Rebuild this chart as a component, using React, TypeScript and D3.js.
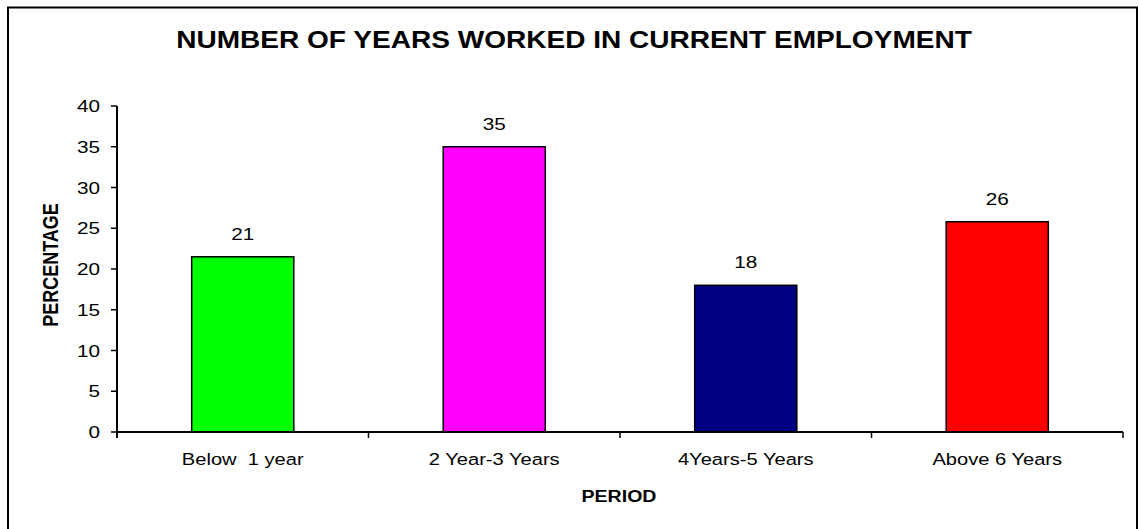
import { useEffect, useRef } from 'react';
import * as d3 from 'd3';

const categories = ['Below  1 year', '2 Year-3 Years', '4Years-5 Years', 'Above 6 Years'];
const values = [21.5, 35, 18, 25.8];
const valueLabels = ['21', '35', '18', '26'];
const barColors = ['#00FF00', '#FF00FF', '#000080', '#FF0000'];
const yTicks = [0, 5, 10, 15, 20, 25, 30, 35, 40];

const W = 1139;
const H = 529;
const FONT = 'Arial, "Liberation Sans", sans-serif';
// the reference text looks stretched sideways
const SX = 1.22;

export default function App() {
  const svgRef = useRef<SVGSVGElement>(null);

  useEffect(() => {
    if (!svgRef.current) return;
    document.body.style.margin = '0';

    const svg = d3.select(svgRef.current);
    svg.selectAll('*').remove();

    const left = 117;
    const right = 1123;
    const top = 106;
    const bottom = 432;

    // helper: stretched text at a point
    const label = (
      x: number,
      y: number,
      txt: string,
      size: number,
      anchor: string,
      bold = false,
      rotate = false,
      sx = SX
    ) => {
      const g = svg
        .append('g')
        .attr('transform', rotate ? `translate(${x},${y}) rotate(-90) scale(1,${sx})` : `translate(${x},${y}) scale(${sx},1)`);
      g.append('text')
        .attr('text-anchor', anchor)
        .attr('font-family', FONT)
        .attr('font-size', `${size}px`)
        .attr('font-weight', bold ? 'bold' : 'normal')
        .attr('fill', '#000')
        .style('white-space', 'pre')
        .text(txt);
    };

    // outer frame
    svg
      .append('rect')
      .attr('x', 8)
      .attr('y', 7.5)
      .attr('width', 1129)
      .attr('height', 530)
      .attr('fill', '#fff')
      .attr('stroke', '#000')
      .attr('stroke-width', 2);

    const x = d3.scaleBand<string>().domain(categories).range([left, right]).paddingInner(0.594).paddingOuter(0.297);
    const y = d3.scaleLinear().domain([0, 40]).range([bottom, top]);

    // Title
    label(574, 48, 'NUMBER OF YEARS WORKED IN CURRENT EMPLOYMENT', 23, 'middle', true);

    // Bars
    svg
      .selectAll('rect.bar')
      .data(values)
      .join('rect')
      .attr('class', 'bar')
      .attr('x', (_, i) => x(categories[i]) ?? 0)
      .attr('y', (d) => y(d))
      .attr('width', x.bandwidth())
      .attr('height', (d) => y(0) - y(d))
      .attr('fill', (_, i) => barColors[i])
      .attr('stroke', '#000')
      .attr('stroke-width', 1.5);

    // Value labels
    values.forEach((v, i) => {
      label((x(categories[i]) ?? 0) + x.bandwidth() / 2, y(v) - 17, valueLabels[i], 17, 'middle');
    });

    // Y axis
    svg
      .append('line')
      .attr('x1', left)
      .attr('x2', left)
      .attr('y1', y(40))
      .attr('y2', bottom + 6)
      .attr('stroke', '#000')
      .attr('stroke-width', 2);
    svg
      .selectAll('line.ytick')
      .data(yTicks)
      .join('line')
      .attr('class', 'ytick')
      .attr('x1', left - 6)
      .attr('x2', left)
      .attr('y1', (d) => y(d))
      .attr('y2', (d) => y(d))
      .attr('stroke', '#000')
      .attr('stroke-width', 1.5);
    yTicks.forEach((t) => label(100, y(t) + 6, String(t), 17, 'end'));

    // X axis
    const bands = d3.scaleLinear().domain([0, categories.length]).range([left, right]);
    svg
      .append('line')
      .attr('x1', left)
      .attr('x2', right)
      .attr('y1', bottom)
      .attr('y2', bottom)
      .attr('stroke', '#000')
      .attr('stroke-width', 2);
    svg
      .selectAll('line.xtick')
      .data(d3.range(categories.length + 1))
      .join('line')
      .attr('class', 'xtick')
      .attr('x1', (d) => bands(d))
      .attr('x2', (d) => bands(d))
      .attr('y1', bottom)
      .attr('y2', bottom + 6)
      .attr('stroke', '#000')
      .attr('stroke-width', 1.5);

    categories.forEach((c) => label((x(c) ?? 0) + x.bandwidth() / 2, 465, c, 16.5, 'middle'));

    // Axis titles
    label(619, 502, 'PERIOD', 17, 'middle', true, false, 1.15);
    label(58, 265, 'PERCENTAGE', 18, 'middle', true, true, 1.2);
  }, []);

  return <svg ref={svgRef} width={W} height={H} style={{ display: 'block' }} />;
}
